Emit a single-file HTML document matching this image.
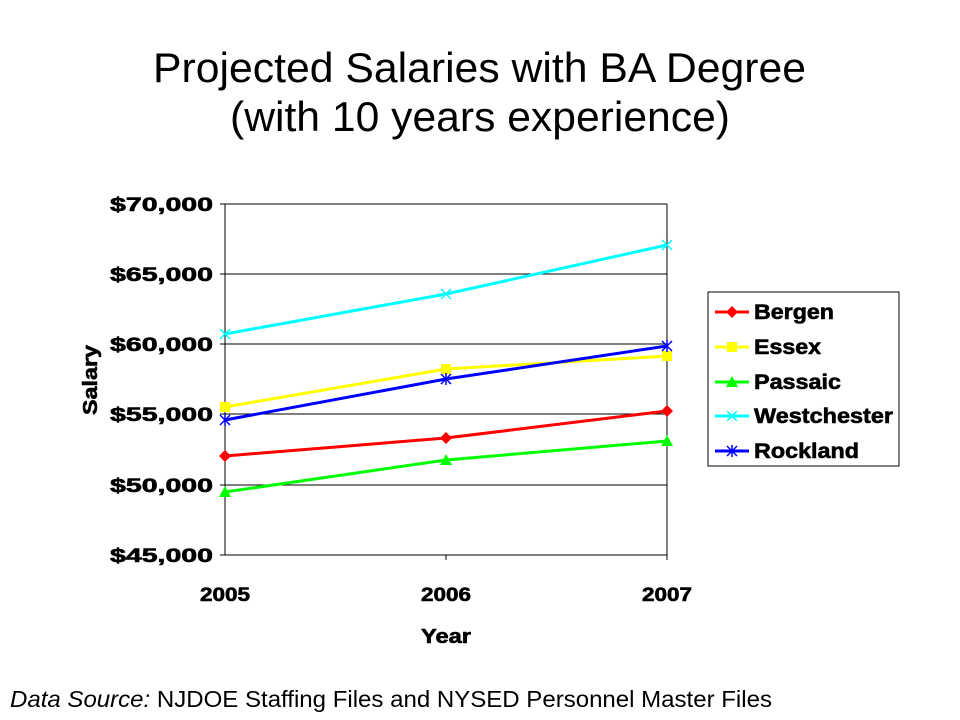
<!DOCTYPE html>
<html><head><style>body{margin:0;background:#fff}svg{display:block}</style></head><body>
<svg width="960" height="720" xmlns="http://www.w3.org/2000/svg" font-family="Liberation Sans, Arial, sans-serif">
<rect width="960" height="720" fill="#fff"/>
<text x="153" y="82" font-size="42" textLength="653" lengthAdjust="spacingAndGlyphs">Projected Salaries with BA Degree</text>
<text x="230" y="131" font-size="42" textLength="500" lengthAdjust="spacingAndGlyphs">(with 10 years experience)</text>
<g stroke="#000" stroke-width="1">
<line x1="225" y1="204" x2="667" y2="204"/>
<line x1="225" y1="274" x2="667" y2="274"/>
<line x1="225" y1="344" x2="667" y2="344"/>
<line x1="225" y1="414" x2="667" y2="414"/>
<line x1="225" y1="485" x2="667" y2="485"/>
<line x1="225" y1="555" x2="667" y2="555"/>
<line x1="225" y1="204" x2="225" y2="555"/>
<line x1="667" y1="204" x2="667" y2="555"/>
<line x1="220" y1="204" x2="225" y2="204"/><line x1="220" y1="274" x2="225" y2="274"/><line x1="220" y1="344" x2="225" y2="344"/><line x1="220" y1="414" x2="225" y2="414"/><line x1="220" y1="485" x2="225" y2="485"/><line x1="220" y1="555" x2="225" y2="555"/>
<line x1="446" y1="555" x2="446" y2="560"/><line x1="667" y1="555" x2="667" y2="560"/>
</g>
<g font-size="19" font-weight="bold" stroke="#000" stroke-width="0.6">
<text x="110" y="211" textLength="103" lengthAdjust="spacingAndGlyphs">$70,000</text>
<text x="110" y="281" textLength="103" lengthAdjust="spacingAndGlyphs">$65,000</text>
<text x="110" y="351" textLength="103" lengthAdjust="spacingAndGlyphs">$60,000</text>
<text x="110" y="421" textLength="103" lengthAdjust="spacingAndGlyphs">$55,000</text>
<text x="110" y="492" textLength="103" lengthAdjust="spacingAndGlyphs">$50,000</text>
<text x="110" y="562" textLength="103" lengthAdjust="spacingAndGlyphs">$45,000</text>
<text x="200" y="601" textLength="50" lengthAdjust="spacingAndGlyphs">2005</text>
<text x="421" y="601" textLength="50" lengthAdjust="spacingAndGlyphs">2006</text>
<text x="642" y="601" textLength="50" lengthAdjust="spacingAndGlyphs">2007</text>
<text x="421" y="643" font-size="20" textLength="50" lengthAdjust="spacingAndGlyphs">Year</text>
<text transform="translate(97,415) rotate(-90)" font-size="20" textLength="70" lengthAdjust="spacingAndGlyphs">Salary</text>
</g>
<g fill="none" stroke-width="3">
<polyline points="225,456 446,438 667,411" stroke="#ff0000"/>
<polyline points="225,407 446,369 667,356" stroke="#ffff00"/>
<polyline points="225,492 446,460 667,441" stroke="#00ff00"/>
<polyline points="225,334 446,294 667,245" stroke="#00ffff"/>
<polyline points="225,420 446,379 667,346" stroke="#0000ff"/>
</g>
<g fill="#ff0000"><path d="M225,450l6,6l-6,6l-6-6z"/><path d="M446,432l6,6l-6,6l-6-6z"/><path d="M667,405l6,6l-6,6l-6-6z"/></g>
<g fill="#ffff00"><rect x="220" y="402" width="10" height="10"/><rect x="441" y="364" width="10" height="10"/><rect x="662" y="351" width="10" height="10"/></g>
<g fill="#00ff00"><path d="M225,486l6,11h-12z"/><path d="M446,454l6,11h-12z"/><path d="M667,435l6,11h-12z"/></g>
<g stroke="#00ffff" stroke-width="1.5"><path d="M220,329l10,10M230,329l-10,10M441,289l10,10M451,289l-10,10M662,240l10,10M672,240l-10,10"/></g>
<g stroke="#0000ff" stroke-width="1.5"><path d="M220,415l10,10M230,415l-10,10M225,414v12M441,374l10,10M451,374l-10,10M446,373v12M662,341l10,10M672,341l-10,10M667,340v12"/></g>
<rect x="708" y="292" width="191" height="174" fill="#fff" stroke="#000"/>
<g stroke-width="3">
<line x1="715" y1="312" x2="749" y2="312" stroke="#ff0000"/>
<line x1="715" y1="347" x2="749" y2="347" stroke="#ffff00"/>
<line x1="715" y1="382" x2="749" y2="382" stroke="#00ff00"/>
<line x1="715" y1="416" x2="749" y2="416" stroke="#00ffff"/>
<line x1="715" y1="451" x2="749" y2="451" stroke="#0000ff"/>
</g>
<path d="M732,306l6,6l-6,6l-6-6z" fill="#ff0000"/>
<rect x="727" y="342" width="10" height="10" fill="#ffff00"/>
<path d="M732,376l6,11h-12z" fill="#00ff00"/>
<path d="M727,411l10,10M737,411l-10,10" stroke="#00ffff" stroke-width="1.5"/>
<path d="M727,446l10,10M737,446l-10,10M732,445v12" stroke="#0000ff" stroke-width="1.5"/>
<g font-size="21" font-weight="bold" stroke="#000" stroke-width="0.6">
<text x="754" y="319" textLength="80" lengthAdjust="spacingAndGlyphs">Bergen</text>
<text x="754" y="354" textLength="67" lengthAdjust="spacingAndGlyphs">Essex</text>
<text x="754" y="389" textLength="87" lengthAdjust="spacingAndGlyphs">Passaic</text>
<text x="754" y="423" textLength="139" lengthAdjust="spacingAndGlyphs">Westchester</text>
<text x="754" y="458" textLength="105" lengthAdjust="spacingAndGlyphs">Rockland</text>
</g>
<text x="10" y="707" font-size="23" textLength="762" lengthAdjust="spacingAndGlyphs"><tspan font-style="italic">Data Source:</tspan> NJDOE Staffing Files and NYSED Personnel Master Files</text>
</svg>
</body></html>
